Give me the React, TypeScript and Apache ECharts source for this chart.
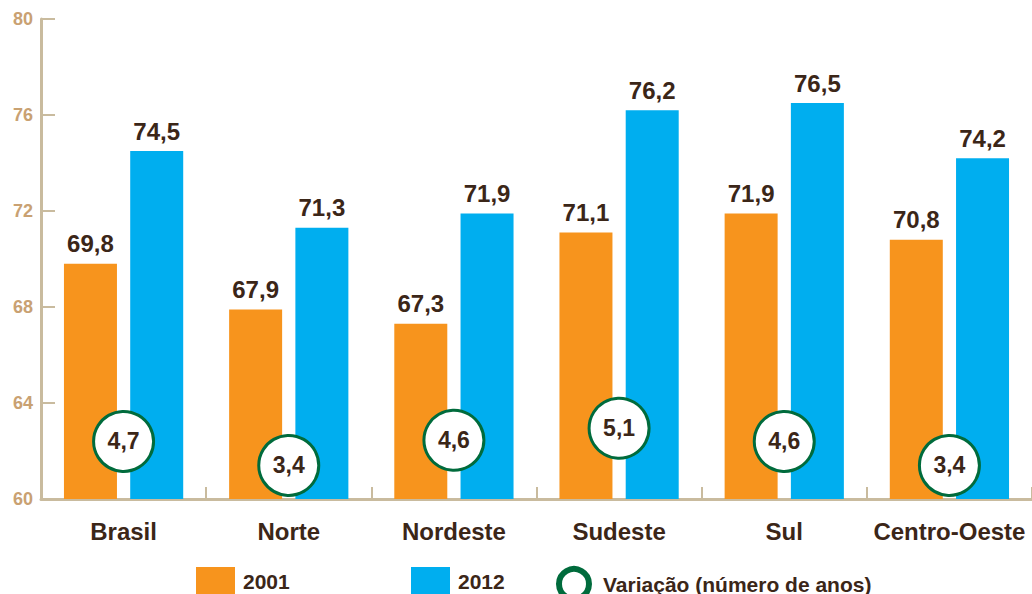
import React, { useEffect, useRef } from "react";
import * as echarts from "echarts";

const categories = ["Brasil", "Norte", "Nordeste", "Sudeste", "Sul", "Centro-Oeste"];
const values2001 = [69.8, 67.9, 67.3, 71.1, 71.9, 70.8];
const values2012 = [74.5, 71.3, 71.9, 76.2, 76.5, 74.2];
const variation = [4.7, 3.4, 4.6, 5.1, 4.6, 3.4];
// vertical placement of the variation badges (layout only)
const badgeLevel = [62.4, 61.4, 62.45, 62.95, 62.4, 61.4];
const yTicks = { min: 60, max: 80, interval: 4 };

const ORANGE = "#F7941D";
const BLUE = "#00AEEF";
const GREEN = "#006B3C";
const BROWN = "#3B2618";
const TAN = "#C9A172";
const AXIS = "#C9BB9E";
const FONT = "'Liberation Sans', Arial, sans-serif";

const fmt = (v: number) => v.toFixed(1).replace(".", ",");

const legendText = (padLeft: number) => ({
  fontFamily: FONT, fontWeight: "bold", fontSize: 21, color: BROWN, padding: [0, 0, 5, padLeft],
});

export default function App() {
  const ref = useRef<HTMLDivElement>(null);
  useEffect(() => {
    const chart = echarts.init(ref.current!, null, { renderer: "svg" });
    chart.setOption({
      animation: false,
      textStyle: { fontFamily: FONT },
      grid: { left: 41, right: 0, top: 19, bottom: 95, containLabel: false },
      legend: [
        {
          left: 196, top: 567, padding: 0, itemWidth: 39, itemHeight: 28,
          data: [{ name: "2001", icon: "rect" }],
          textStyle: legendText(3),
        },
        {
          left: 411, top: 567, padding: 0, itemWidth: 39, itemHeight: 28,
          data: [{ name: "2012", icon: "rect" }],
          textStyle: legendText(3),
        },
        {
          left: 556, top: 566, padding: 0, itemWidth: 30, itemHeight: 30,
          data: [{ name: "Variação (número de anos)", icon: "circle" }],
          itemStyle: { color: "#fff", borderColor: GREEN, borderWidth: 6 },
          textStyle: legendText(9),
        },
      ],
      xAxis: {
        type: "category",
        data: categories,
        boundaryGap: true,
        axisLine: { lineStyle: { color: AXIS, width: 3 } },
        axisTick: { show: true, inside: true, interval: 0, length: 12, lineStyle: { color: AXIS, width: 2 } },
        axisLabel: { interval: 0, fontFamily: FONT, fontWeight: "bold", fontSize: 24, color: BROWN, margin: 20 },
      },
      yAxis: {
        type: "value",
        min: yTicks.min,
        max: yTicks.max,
        interval: yTicks.interval,
        splitLine: { show: false },
        axisLine: { show: true, lineStyle: { color: AXIS, width: 3 } },
        axisTick: { show: true, inside: true, length: 14, lineStyle: { color: AXIS, width: 2 } },
        axisLabel: { fontFamily: FONT, fontWeight: "bold", fontSize: 18, color: TAN, margin: 8 },
      },
      series: [
        {
          name: "2001",
          type: "bar",
          data: values2001,
          barWidth: 53,
          barGap: "25%",
          itemStyle: { color: ORANGE },
          label: {
            show: true, position: "top", distance: 8,
            formatter: (p: any) => fmt(p.value),
            fontFamily: FONT, fontWeight: "bold", fontSize: 24, color: BROWN,
          },
        },
        {
          name: "2012",
          type: "bar",
          data: values2012,
          barWidth: 53,
          barGap: "25%",
          itemStyle: { color: BLUE },
          label: {
            show: true, position: "top", distance: 8,
            formatter: (p: any) => fmt(p.value),
            fontFamily: FONT, fontWeight: "bold", fontSize: 24, color: BROWN,
          },
        },
        {
          name: "Variação (número de anos)",
          type: "scatter",
          z: 5,
          symbol: "circle",
          symbolSize: 60,
          data: badgeLevel.map((y, i) => [i, y]),
          itemStyle: { color: "#fff", borderColor: GREEN, borderWidth: 3, opacity: 1 },
          label: {
            show: true, position: "inside",
            formatter: (p: any) => fmt(variation[p.dataIndex]),
            fontFamily: FONT, fontWeight: "bold", fontSize: 23, color: BROWN,
          },
        },
      ],
    });
    return () => chart.dispose();
  }, []);
  return <div ref={ref} style={{ width: 1032, height: 594, position: "absolute", left: 0, top: 0, background: "#fff" }} />;
}
